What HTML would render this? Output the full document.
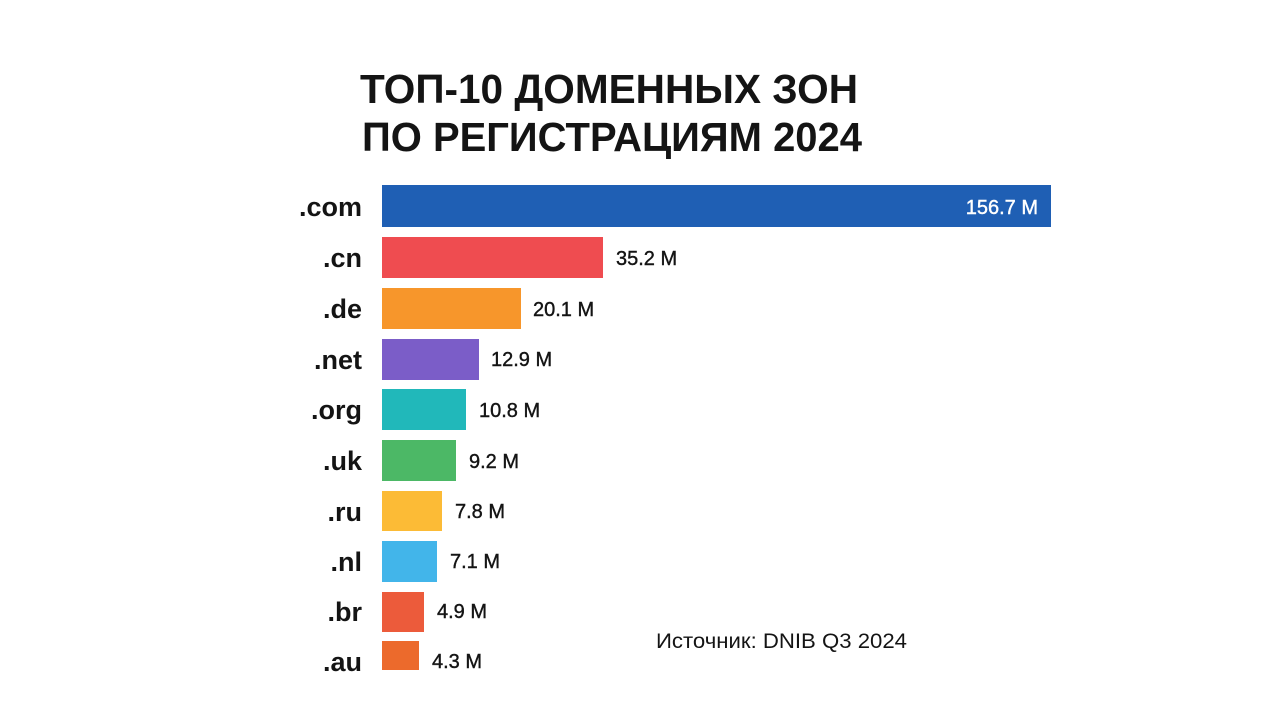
<!DOCTYPE html>
<html><head><meta charset="utf-8"><style>html,body{margin:0;padding:0;background:#fff}svg{display:block}</style></head>
<body>
<svg width="1280" height="720" viewBox="0 0 1280 720" xmlns="http://www.w3.org/2000/svg" font-family="Liberation Sans, sans-serif">
<rect width="1280" height="720" fill="#fff"/>
<text x="360" y="103" font-size="41" font-weight="bold" fill="#141414" textLength="498" lengthAdjust="spacingAndGlyphs">ТОП-10 ДОМЕННЫХ ЗОН</text>
<text x="362" y="151" font-size="41" font-weight="bold" fill="#141414" textLength="500" lengthAdjust="spacingAndGlyphs">ПО РЕГИСТРАЦИЯМ 2024</text>
<g font-size="27" font-weight="bold" fill="#141414" text-anchor="end">
<text x="362" y="216">.com</text>
<text x="362" y="267">.cn</text>
<text x="362" y="318">.de</text>
<text x="362" y="369">.net</text>
<text x="362" y="419">.org</text>
<text x="362" y="470">.uk</text>
<text x="362" y="521">.ru</text>
<text x="362" y="571">.nl</text>
<text x="362" y="621">.br</text>
<text x="362" y="671">.au</text>
</g>
<rect x="382" y="185" width="669" height="42" fill="#1f5fb4"/>
<rect x="382" y="237" width="221" height="41" fill="#ef4c50"/>
<rect x="382" y="288" width="139" height="41" fill="#f7962b"/>
<rect x="382" y="339" width="97" height="41" fill="#7b5dc8"/>
<rect x="382" y="389" width="84" height="41" fill="#21b8ba"/>
<rect x="382" y="440" width="74" height="41" fill="#4cb866"/>
<rect x="382" y="491" width="60" height="40" fill="#fcbb36"/>
<rect x="382" y="541" width="55" height="41" fill="#42b5ea"/>
<rect x="382" y="592" width="42" height="40" fill="#ec5b3b"/>
<rect x="382" y="641" width="37" height="29" fill="#ec6a2c"/>
<g font-size="20" fill="#141414" stroke="#141414" stroke-width="0.4">
<text x="1038" y="214" fill="#fff" stroke="#fff" text-anchor="end">156.7 M</text>
<text x="616" y="265">35.2 M</text>
<text x="533" y="316">20.1 M</text>
<text x="491" y="366">12.9 M</text>
<text x="479" y="417">10.8 M</text>
<text x="469" y="468">9.2 M</text>
<text x="455" y="518">7.8 M</text>
<text x="450" y="568">7.1 M</text>
<text x="437" y="618">4.9 M</text>
<text x="432" y="668">4.3 M</text>
</g>
<text x="656" y="648" font-size="21" fill="#141414" textLength="251" lengthAdjust="spacingAndGlyphs">Источник: DNIB Q3 2024</text>
</svg>
</body></html>
